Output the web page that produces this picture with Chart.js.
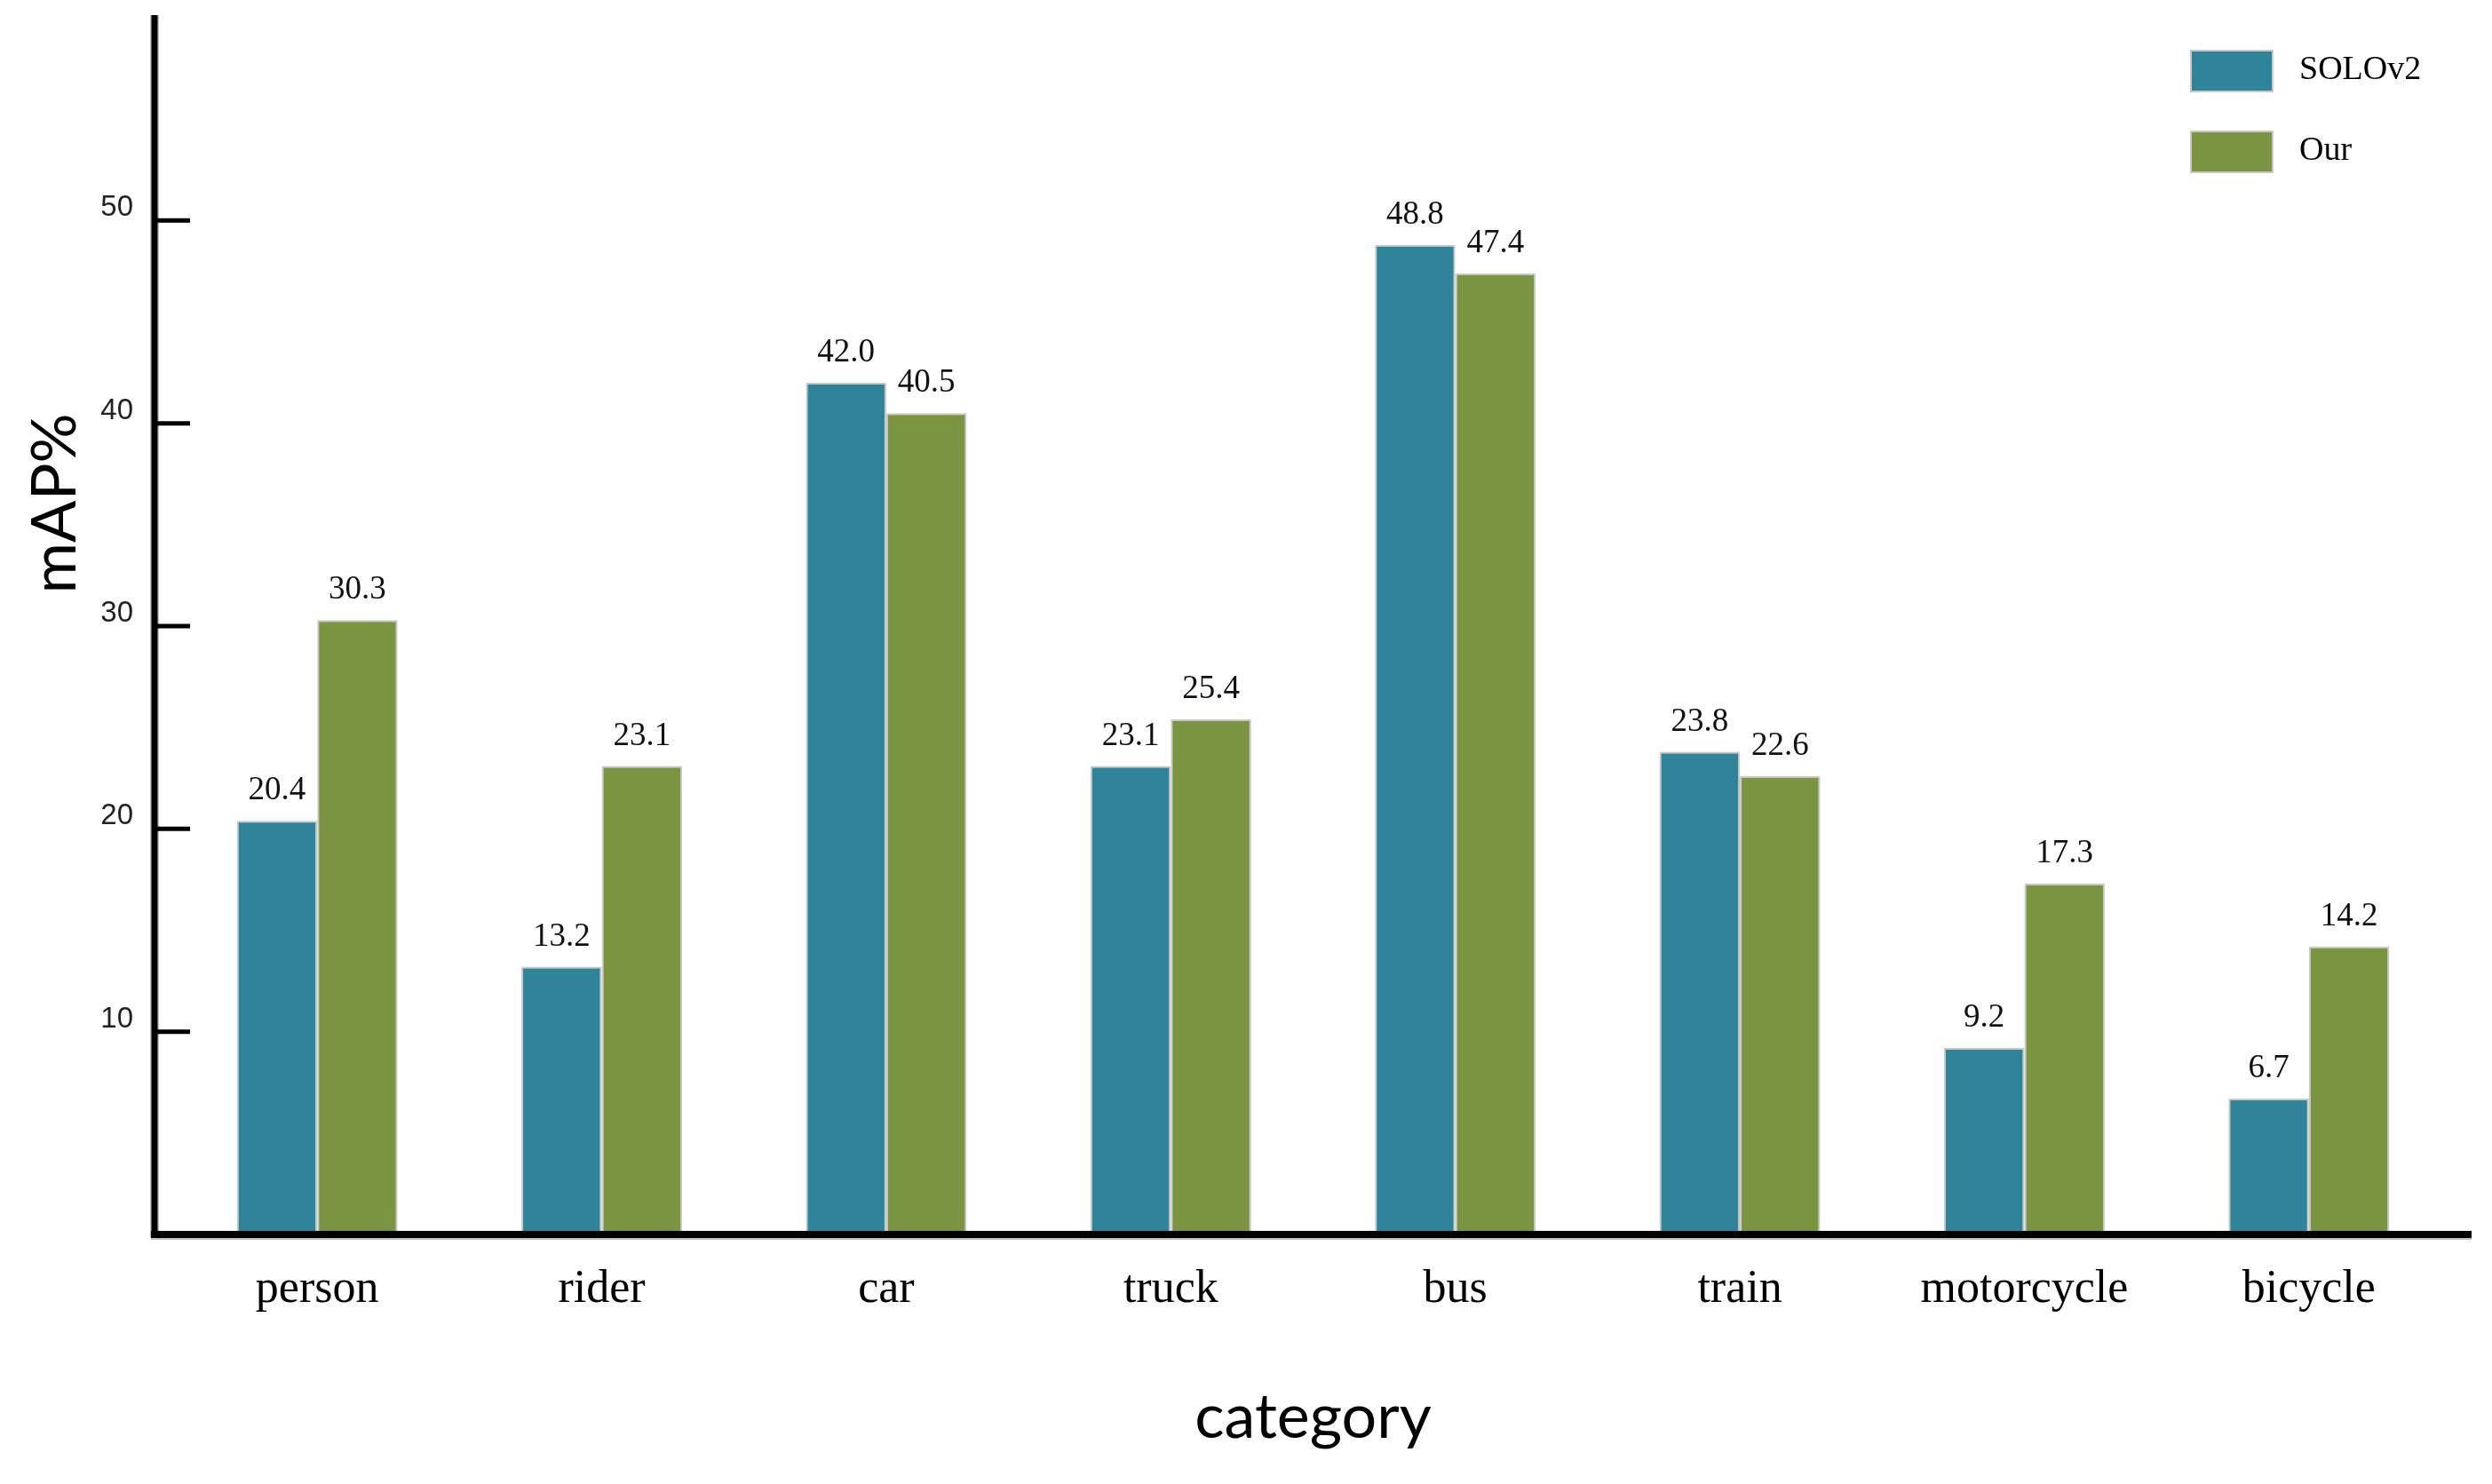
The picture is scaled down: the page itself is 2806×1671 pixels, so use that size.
<!DOCTYPE html>
<html>
<head>
<meta charset="utf-8">
<script src="https://cdn.jsdelivr.net/npm/chart.js@4/dist/chart.umd.min.js"></script>
<style>
  html, body { margin: 0; padding: 0; background: #ffffff; }
  #wrap { width: 2806px; height: 1671px; }
</style>
</head>
<body>
<div id="wrap"><canvas id="c" width="2806" height="1671"></canvas></div>
<script>
const categories = ["person", "rider", "car", "truck", "bus", "train", "motorcycle", "bicycle"];
const seriesNames = ["SOLOv2", "Our"];
const solov2Values = [20.4, 13.2, 42.0, 23.1, 48.8, 23.8, 9.2, 6.7];
const ourValues = [30.3, 23.1, 40.5, 25.4, 47.4, 22.6, 17.3, 14.2];
const yTickValues = [10, 20, 30, 40, 50];
const yMin = 0, yMax = 60;
const xTitle = "category";
const yTitle = "mAP%";

const colors = ["#30849a", "#7a9441"];
const SERIF = "'Liberation Serif', 'Times New Roman', serif";

const decorPlugin = {
  id: 'decor',
  afterDatasetsDraw(chart) {
    const ctx = chart.ctx;
    const ys = chart.scales.y;
    const y0 = ys.getPixelForValue(0);
    const yTop = ys.getPixelForValue(yMax);
    const axisX = 174;
    ctx.save();
    // value labels
    ctx.fillStyle = '#111';
    ctx.font = "37px " + SERIF;
    ctx.textAlign = 'center';
    ctx.textBaseline = 'alphabetic';
    chart.data.datasets.forEach((ds, di) => {
      const meta = chart.getDatasetMeta(di);
      meta.data.forEach((el, i) => {
        ctx.fillText(ds.data[i].toFixed(1), el.x, el.y - 24);
      });
    });
    // axes
    ctx.lineCap = 'butt';
    ctx.strokeStyle = '#c0c0c0';
    ctx.lineWidth = 10;
    ctx.beginPath();
    ctx.moveTo(axisX, yTop - 3); ctx.lineTo(axisX, y0 + 4);
    ctx.moveTo(axisX - 4, y0 + 1); ctx.lineTo(2783, y0 + 1);
    ctx.stroke();
    ctx.strokeStyle = '#000';
    ctx.lineWidth = 7;
    ctx.beginPath();
    ctx.moveTo(axisX, yTop - 3); ctx.lineTo(axisX, y0 + 4);
    ctx.stroke();
    ctx.lineWidth = 8;
    ctx.beginPath();
    ctx.moveTo(axisX - 4, y0); ctx.lineTo(2783, y0);
    ctx.stroke();
    // tick marks (inside)
    ctx.lineWidth = 5;
    ctx.beginPath();
    yTickValues.forEach(v => {
      const py = ys.getPixelForValue(v);
      ctx.moveTo(axisX, py); ctx.lineTo(214, py);
    });
    ctx.stroke();
    // y title
    ctx.save();
    ctx.translate(62, 567);
    ctx.rotate(-Math.PI / 2);
    ctx.fillStyle = '#000';
    ctx.font = "70px Lato, 'Open Sans', sans-serif";
    ctx.textAlign = 'center';
    ctx.textBaseline = 'middle';
    ctx.fillText(yTitle, 0, 0);
    ctx.restore();
    // legend
    const legendY = [57, 148];
    chart.data.datasets.forEach((ds, di) => {
      const by = legendY[di];
      ctx.fillStyle = '#c8c8c8';
      ctx.fillRect(2466, by - 1, 94, 48);
      ctx.fillStyle = ds.backgroundColor;
      ctx.fillRect(2468, by + 1, 90, 44);
      ctx.fillStyle = '#000';
      ctx.font = "38px " + SERIF;
      ctx.textAlign = 'left';
      ctx.textBaseline = 'middle';
      ctx.fillText(ds.label, 2589, by + 22);
    });
    ctx.restore();
  }
};

new Chart(document.getElementById('c'), {
  type: 'bar',
  data: {
    labels: categories,
    datasets: [
      { label: seriesNames[0], data: solov2Values, backgroundColor: colors[0], borderColor: '#c8c8c8', borderWidth: 2, barPercentage: 1.0, categoryPercentage: 0.565 },
      { label: seriesNames[1], data: ourValues, backgroundColor: colors[1], borderColor: '#c8c8c8', borderWidth: 2, barPercentage: 1.0, categoryPercentage: 0.565 }
    ]
  },
  options: {
    responsive: false,
    animation: false,
    devicePixelRatio: 1,
    layout: { padding: { top: 20, right: 46, left: 0, bottom: 0 } },
    plugins: { legend: { display: false }, tooltip: { enabled: false } },
    scales: {
      x: {
        offset: true,
        grid: { display: false, drawTicks: false },
        border: { display: false },
        ticks: { color: '#000', font: { family: SERIF, size: 52 }, padding: 31, maxRotation: 0 },
        title: { display: true, text: xTitle, color: '#000', font: { family: "Lato, 'Open Sans', sans-serif", size: 70 }, padding: { top: 0, bottom: 33 } },
        afterFit(scale) { scale.height = 281; scale.paddingLeft = 0; scale.paddingRight = 0; }
      },
      y: {
        min: yMin, max: yMax,
        grid: { display: false, drawTicks: false },
        border: { display: false },
        ticks: {
          stepSize: 10,
          color: '#222',
          font: { family: "'Liberation Sans', Arial, sans-serif", size: 33 },
          padding: 47,
          labelOffset: -14,
          callback: (v) => yTickValues.includes(v) ? String(v) : ''
        },
        afterFit(scale) { scale.width = 197; scale.paddingTop = 0; scale.paddingBottom = 0; }
      }
    }
  },
  plugins: [decorPlugin]
});
</script>
</body>
</html>
